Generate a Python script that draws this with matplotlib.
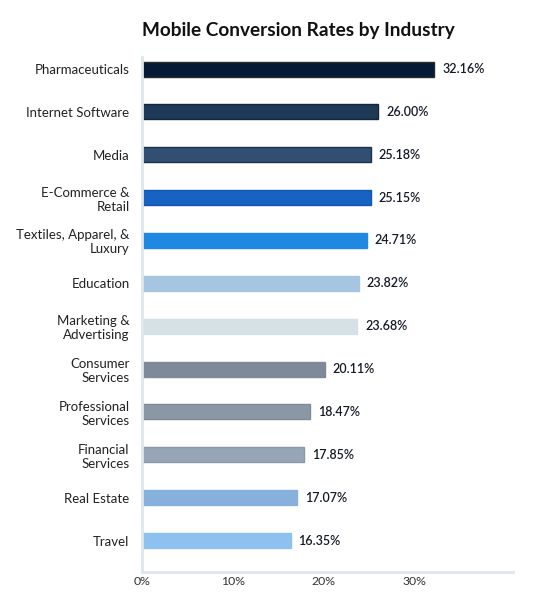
import matplotlib

matplotlib.use("Agg")
import matplotlib.pyplot as plt
import numpy as np

plt.rcParams["font.family"] = ["Lato", "DejaVu Sans"]

industries = [
    "Pharmaceuticals", "Internet Software", "Media", "E-Commerce &\nRetail",
    "Textiles, Apparel, &\nLuxury", "Education", "Marketing &\nAdvertising",
    "Consumer\nServices", "Professional\nServices", "Financial\nServices",
    "Real Estate", "Travel",
]
rates = [32.16, 26.00, 25.18, 25.15, 24.71, 23.82, 23.68, 20.11, 18.47, 17.85, 17.07, 16.35]
bar_colors = [
    "#051a36", "#1f3a56", "#324e73", "#1862c2", "#1e88e3", "#a5c5e1",
    "#d5e1e6", "#7f8a98", "#8a98a5", "#97a5b7", "#88b0dd", "#8dc2f0",
]
edge_colors = [
    "#2a2a2a", "#15253a", "#1d3150", "#1556b0", "#1e88e3", "#a5c5e1",
    "#d5e1e6", "#7f8a98", "#7f8d9a", "#8a98aa", "#88b0dd", "#8dc2f0",
]
ticks = [0, 10, 20, 30]
tick_labels = ["0%", "10%", "20%", "30%"]

fig = plt.figure(figsize=(5.55, 6.0), dpi=100)
ax = fig.add_axes([0.256, 0.047, 0.668, 0.858])

y = np.arange(len(industries))
ax.barh(y, rates, height=0.35, color=bar_colors, edgecolor=edge_colors, linewidth=1)

for yi, r in zip(y, rates):
    ax.text(r + 0.85, yi, f"{r:.2f}%", va="center", ha="left",
            fontsize=9, fontweight="semibold", color="#141a26")

ax.set_xlim(0, 40.8)
ax.set_ylim(11.73, -0.28)
ax.set_yticks(y)
ax.set_yticklabels(industries, fontsize=9.5, color="#222222", linespacing=1.2)
ax.set_xticks(ticks)
ax.set_xticklabels(tick_labels, fontsize=8.8, color="#333333")
ax.tick_params(axis="both", length=0)
ax.tick_params(axis="y", pad=9)
ax.tick_params(axis="x", pad=3)

for side in ("top", "right"):
    ax.spines[side].set_visible(False)
for side in ("left", "bottom"):
    ax.spines[side].set_color("#dfe7eb")
    ax.spines[side].set_linewidth(2)

fig.text(0.537, 0.949, "Mobile Conversion Rates by Industry", ha="center", va="center",
         fontsize=13.7, fontweight="bold", color="#111111")

fig.savefig("out.png", dpi=100)
